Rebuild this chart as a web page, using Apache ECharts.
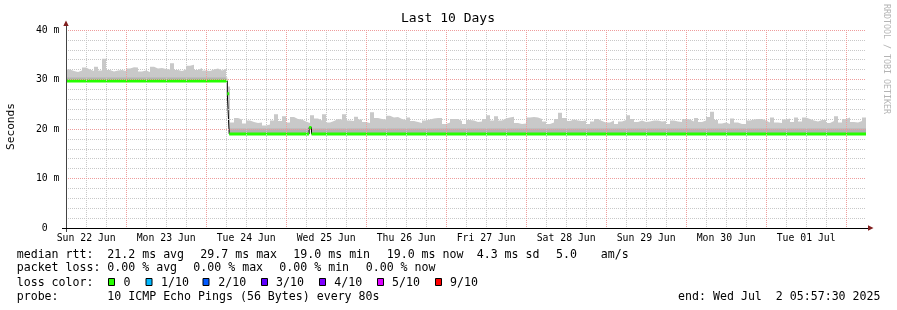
<!DOCTYPE html>
<html><head><meta charset="utf-8">
<script src="https://cdn.jsdelivr.net/npm/echarts@6/dist/echarts.min.js"></script>
<style>html,body{margin:0;padding:0;background:#fff}#c{width:897px;height:310px}</style>
</head><body><div id="c"></div>
<script>
// time axis in hours since Sun 22 Jun 00:00
const startHour = 5.9583;   // Sun 22 Jun 05:57:30
const endHour = 245.9583;   // Wed 02 Jul 05:57:30
const stepHours = 1.2;      // one smoke column = 72 min

const dayLabels = ['Sun 22 Jun','Mon 23 Jun','Tue 24 Jun','Wed 25 Jun','Thu 26 Jun','Fri 27 Jun','Sat 28 Jun','Sun 29 Jun','Mon 30 Jun','Tue 01 Jul'];
const dayLabelHours = [12,36,60,84,108,132,156,180,204,228];
const yTickValues = [0,10,20,30,40];
const yTickLabels = ['0','10 m','20 m','30 m','40 m'];

// smoke: max ping per column (ms)
const smokeMax = [
 32.0,31.7,31.5,31.8,32.4,32.0,31.7,32.6,31.8,34.2,
 31.9,31.6,31.8,31.9,31.7,32.2,32.5,32.4,31.6,31.8,
 31.5,32.6,32.2,32.3,32.1,32.0,33.3,31.9,31.7,32.0,
 32.8,33.0,31.9,32.3,31.8,31.7,32.0,32.2,31.8,32.1,
 28.6,
 21.3,22.2,21.9,21.1,21.7,21.4,21.2,21.3,20.7,20.9,
 21.7,23.0,21.6,22.6,21.3,22.4,22.0,21.9,21.5,21.2,
 22.8,22.1,21.7,23.0,21.3,21.6,22.0,21.9,23.0,21.7,
 21.6,22.5,21.9,21.4,21.2,23.4,22.2,22.0,21.9,22.7,
 22.3,22.4,22.0,21.8,22.3,21.6,21.4,21.2,21.7,21.9,
 22.1,22.2,
 22.2,21.0,21.3,22.0,22.0,21.6,21.0,21.8,21.7,21.4,
 21.5,22.0,22.8,21.7,22.6,21.7,22.1,22.3,22.5,21.2,
 21.0,21.1,22.3,22.4,22.3,22.0,21.5,21.0,21.3,22.0,
 23.3,22.2,21.6,21.9,21.7,21.6,21.7,21.0,21.5,22.0,
 21.6,21.3,21.3,21.7,21.0,21.5,21.8,22.8,22.0,21.4,
 21.7,21.4,21.5,21.7,
 21.7,21.5,21.6,21.0,21.7,21.5,21.4,22.0,21.9,21.5,
 22.2,21.4,21.7,22.4,23.5,21.8,21.1,21.3,21.0,22.1,
 21.3,21.0,21.0,21.7,21.9,22.0,22.0,21.7,21.3,22.3,
 21.3,21.2,21.9,22.1,21.4,22.3,21.5,22.3,22.0,21.7,
 21.5,21.8,21.8,21.2,21.6,22.6,21.3,22.0,22.3,21.4,
 21.3,21.6,22.3
];
// inner (denser) smoke band top
const innerTimes = [5.9583, 54.35, 54.92];
const innerValues = [30.4, 27.4, 20.1];
// median rtt (ms), piecewise
const medianTimes = [5.9583, 54.35, 54.92, 78.9, 79.6];
const medianValues = [29.7, 27.1, 19.0, 20.3, 19.0];

const lossLabels = ['0','1/10','2/10','3/10','4/10','5/10','9/10'];
const lossColors = ['#26ff00','#00b8ff','#0059ff','#5e00ff','#7e00ff','#dd00ff','#ff0000'];

function stepPairs(times, values, endT) {
  const out = times.map((t, i) => [t, values[i]]);
  out.push([endT, values[values.length - 1]]);
  return out;
}
const smokeTimes = smokeMax.map((_, i) => startHour + i * stepHours);
const smokeData = stepPairs(smokeTimes, smokeMax, endHour);
const innerData = stepPairs(innerTimes, innerValues, endHour);
const medianData = stepPairs(medianTimes, medianValues, endHour);
const greenData = [];
medianTimes.forEach((t, i) => {
  const t2 = i + 1 < medianTimes.length ? medianTimes[i + 1] : endHour;
  greenData.push([t, medianValues[i]], [t2, medianValues[i]], [t2, '-']);
});
const midnightHours = [];
const minorHours = [];
for (let h = 6; h <= endHour; h += 6) {
  if (h % 24 === 0) midnightHours.push(h); else minorHours.push(h);
}

const MONO = '"DejaVu Sans Mono", monospace';
const FONT = '11.6px ' + MONO;
const MAJOR = '#ee9c9c';
const MINOR = '#c8c8c8';

const graphic = [];
function txt(x, y, s, align) {
  graphic.push({type:'text', x:x, y:y, silent:true,
    style:{text:s, font:FONT, fill:'#000', align:align || 'left', verticalAlign:'middle'}});
}
// title
graphic.push({type:'text', x:448, y:19, style:{text:'Last 10 Days', font:'13px ' + MONO, fill:'#000', align:'center', verticalAlign:'middle'}});
// y axis name
graphic.push({type:'text', x:11, y:126.5, rotation:Math.PI/2, style:{text:'Seconds', font:'11.2px ' + MONO, fill:'#000', align:'center', verticalAlign:'middle'}});
// watermark
graphic.push({type:'text', x:886, y:59, rotation:-Math.PI/2, style:{text:'RRDTOOL / TOBI OETIKER', font:'8.3px ' + MONO, fill:'#b4b4b4', align:'center', verticalAlign:'middle'}});
// arrows & axis extensions
graphic.push({type:'polygon', shape:{points:[[63.3,26],[68.7,26],[66,20.5]]}, style:{fill:'#801f1f'}});
graphic.push({type:'polygon', shape:{points:[[868,225.3],[868,230.7],[873.5,228]]}, style:{fill:'#801f1f'}});
graphic.push({type:'line', shape:{x1:66.5,y1:26,x2:66.5,y2:30}, style:{stroke:'#444', lineWidth:1}});
graphic.push({type:'line', shape:{x1:66.5,y1:228,x2:66.5,y2:232}, style:{stroke:'#444', lineWidth:1}});
graphic.push({type:'line', shape:{x1:62,y1:228.5,x2:66,y2:228.5}, style:{stroke:'#000', lineWidth:1}});
graphic.push({type:'line', shape:{x1:866,y1:228.5,x2:868,y2:228.5}, style:{stroke:'#000', lineWidth:1}});

// legend rows
const r1 = 254.7, r2 = 268.4, r3 = 282.5, r4 = 296.7;
txt(16.7, r1, 'median rtt:');
txt(107.3, r1, '21.2 ms avg');
txt(200.3, r1, '29.7 ms max');
txt(293.3, r1, '19.0 ms min');
txt(386.7, r1, '19.0 ms now');
txt(476.7, r1, '4.3 ms sd');
txt(556, r1, '5.0');
txt(600.7, r1, 'am/s');
txt(16.7, r2, 'packet loss:');
txt(107.3, r2, '0.00 % avg');
txt(193.3, r2, '0.00 % max');
txt(279.3, r2, '0.00 % min');
txt(365.7, r2, '0.00 % now');
txt(16.7, r3, 'loss color:');
const boxX = [108.5, 146, 203, 261.5, 319.5, 377.5, 435.5];
const labX = [123.6, 161, 218.3, 276, 334.3, 392, 450];
lossLabels.forEach((l, i) => {
  graphic.push({type:'rect', shape:{x:boxX[i], y:278.5, width:6, height:7}, style:{fill:lossColors[i], stroke:'#000', lineWidth:1}});
  txt(labX[i], r3, l);
});
txt(16.7, r4, 'probe:');
txt(107.3, r4, '10 ICMP Echo Pings (56 Bytes) every 80s');
txt(880.5, r4, 'end: Wed Jul  2 05:57:30 2025', 'right');

const base = {type:'line', step:'end', symbol:'none', showSymbol:false, silent:true, animation:false, z:2};
const option = {
  animation: false,
  backgroundColor: '#fff',
  grid: {left:66, right:31, top:30, bottom:82, containLabel:false, outerBoundsMode:'none'},
  xAxis: [{
    type:'value', min:startHour, max:endHour, z:5,
    axisLine:{show:true, onZero:false, lineStyle:{color:'#000', width:1}},
    axisTick:{show:false, customValues:midnightHours},
    splitLine:{show:true, lineStyle:{color:MAJOR, type:[1,1], width:1}},
    axisLabel:{show:true, customValues:dayLabelHours, margin:5, color:'#000', fontFamily:MONO, fontSize:9.8,
      formatter: v => dayLabels[dayLabelHours.indexOf(Math.round(v))] || ''}
  }, {
    type:'value', min:startHour, max:endHour, z:4, position:'top',
    axisLine:{show:false}, axisLabel:{show:false},
    axisTick:{show:false, customValues:minorHours},
    splitLine:{show:true, lineStyle:{color:MINOR, type:[1,1], width:1}}
  }],
  yAxis: [{
    type:'value', min:0, max:40, interval:10, z:5,
    axisLine:{show:true, lineStyle:{color:'#444', width:1}},
    axisTick:{show:false},
    axisLabel:{margin:6.5, color:'#000', fontFamily:MONO, fontSize:9.8,
      formatter: v => { const s = yTickLabels[yTickValues.indexOf(v)]; return v === 0 ? s + '\u00a0\u00a0' : s; }},
    splitLine:{show:true, lineStyle:{color:MAJOR, type:[1,1], width:1}},
    minorTick:{show:false, splitNumber:5},
    minorSplitLine:{show:true, lineStyle:{color:MINOR, type:[1,1], width:1}}
  }],
  series: [
    Object.assign({}, base, {name:'smoke', data:smokeData, lineStyle:{opacity:0}, areaStyle:{color:'#c9c9c9', opacity:1}}),
    Object.assign({}, base, {name:'inner', data:innerData, lineStyle:{opacity:0}, areaStyle:{color:'#b3b3b3', opacity:1}}),
    Object.assign({}, base, {name:'below', data:medianData, lineStyle:{opacity:0}, areaStyle:{color:'#ffffff', opacity:1}}),
    Object.assign({}, base, {name:'medianEdge', data:medianData, lineStyle:{color:'#000', width:1}, z:3}),
    {type:'line', name:'median', data:greenData, symbol:'none', showSymbol:false, silent:true, connectNulls:false,
     lineStyle:{color:'#26ff00', width:3, cap:'butt'}, z:3, animation:false}
  ],
  graphic: graphic
};
const chart = echarts.init(document.getElementById('c'), null, {renderer:'canvas', width:897, height:310});
chart.setOption(option);
</script></body></html>
